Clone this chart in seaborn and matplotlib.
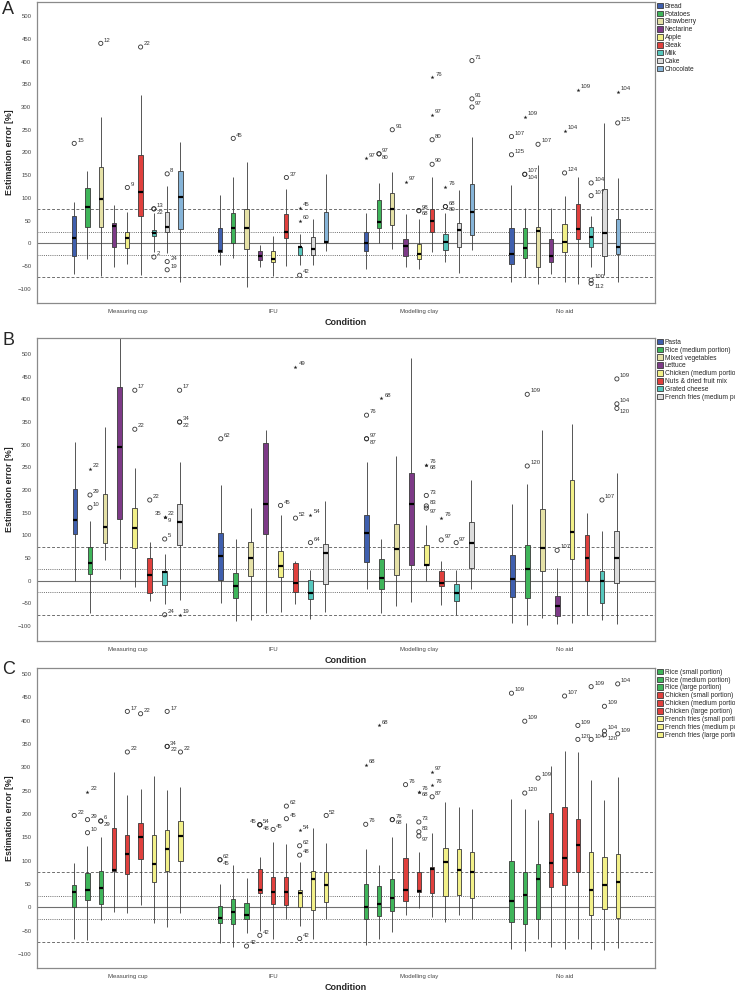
## ESTIMATION ERROR BY CONDITION -- THREE PANELS OF GROUPED BOXPLOTS ##

import matplotlib.pyplot as plt
import pandas as pd
import seaborn as sns

conditions = ["Measuring cup", "IFU", "Modelling clay", "No aid"]

# ---------------- panel A ----------------
foods_a = ["Bread", "Potatoes", "Strawberry", "Nectarine", "Apple", "Steak", "Milk", "Cake", "Chocolate"]
colors_a = ["#3f5fae", "#3fb55a", "#e5e1a6", "#7d3a87", "#f2f088", "#e0403d", "#55c7bd", "#dcdcdc", "#86b4d8"]

# each row: lower whisker, q1, median, q3, upper whisker
a_cup = [[-68, -28, 12, 60, 92], [-35, 37, 80, 121, 160], [-72, 35, 97, 168, 278],
         [-53, -7, 38, 44, 85], [-45, -11, 12, 24, 68], [-70, 60, 113, 194, 326],
         [-18, 17, 22, 30, 66], [-22, 26, 35, 70, 126], [-86, 31, 102, 160, 224]]
a_ifu = [[-48, -18, -16, 34, 106], [-33, 0, 33, 66, 145], [-97, -12, 33, 75, 179],
         [-51, -37, -28, -16, -4], [-71, -40, -35, -16, 16], [-50, 12, 26, 64, 119],
         [-48, -26, -9, -7, 20], [-48, -26, -13, 15, 53], [-16, 3, 4, 68, 152]]
a_clay = [[-57, -16, 0, 24, 66], [0, 33, 47, 95, 133], [-12, 40, 75, 110, 158],
          [-52, -28, -5, 10, 65], [-57, -35, -23, -1, 53], [-18, 26, 50, 76, 146],
          [-40, -14, 2, 20, 67], [-65, -8, 30, 45, 117], [-15, 18, 69, 130, 234]]
a_none = [[-86, -46, -23, 34, 128], [-75, -33, -10, 34, 78], [-90, -53, 28, 37, 173],
          [-67, -42, -28, 9, 78], [-86, -18, 3, 43, 104], [-90, 9, 31, 86, 147],
          [-53, -9, 15, 37, 60], [-70, -27, 22, 119, 264], [-84, -23, -8, 53, 144]]

# outliers: (condition index, food index, value, case label, star?)
out_a = [(0, 0, 220, "15", 0), (0, 2, 440, "12", 0), (0, 4, 123, "9", 0), (0, 5, 432, "22", 0),
         (0, 6, 76, "13", 0), (0, 6, 76, "22", 0), (0, 6, -30, "2", 0), (0, 7, 153, "8", 0),
         (0, 7, -40, "24", 0), (0, 7, -58, "19", 0),
         (1, 1, 231, "45", 0), (1, 5, 145, "37", 0), (1, 6, 78, "45", 1), (1, 6, 50, "60", 1),
         (1, 6, -70, "42", 0),
         (2, 0, 187, "97", 1), (2, 1, 197, "97", 0), (2, 1, 197, "80", 0), (2, 2, 250, "91", 0),
         (2, 3, 135, "97", 1), (2, 4, 72, "98", 0), (2, 4, 72, "68", 0), (2, 5, 365, "76", 1),
         (2, 5, 282, "97", 1), (2, 5, 228, "80", 0), (2, 5, 174, "90", 0), (2, 6, 125, "76", 1),
         (2, 6, 81, "68", 0), (2, 6, 81, "80", 0), (2, 8, 402, "71", 0), (2, 8, 318, "91", 0),
         (2, 8, 300, "97", 0),
         (3, 0, 235, "107", 0), (3, 0, 195, "125", 0), (3, 1, 278, "109", 1), (3, 1, 152, "107", 0),
         (3, 1, 152, "104", 0), (3, 2, 218, "107", 0), (3, 4, 247, "104", 1), (3, 4, 155, "124", 0),
         (3, 5, 338, "109", 1), (3, 6, 133, "104", 0), (3, 6, 105, "107", 0), (3, 6, -81, "100", 0),
         (3, 6, -88, "112", 0), (3, 8, 333, "104", 1), (3, 8, 265, "125", 0)]

# ---------------- panel B ----------------
foods_b = ["Pasta", "Rice (medium portion)", "Mixed vegetables", "Lettuce", "Chicken (medium portion)",
           "Nuts & dried fruit mix", "Grated cheese", "French fries (medium portion)"]
colors_b = ["#3f5fae", "#3fb55a", "#e5e1a6", "#7d3a87", "#f2f088", "#e0403d", "#55c7bd", "#dcdcdc"]

b_cup = [[0, 102, 133, 203, 305], [-71, 15, 38, 74, 131], [46, 83, 119, 192, 339],
         [4, 137, 295, 427, 545], [-13, 73, 117, 160, 248], [-44, -26, 12, 49, 86],
         [-51, -9, 19, 21, 58], [-43, 79, 130, 170, 261]]
b_ifu = [[-49, 2, 55, 106, 211], [-88, -38, -11, 17, 93], [-86, 11, 50, 85, 161],
         [-72, 102, 169, 304, 332], [-69, 8, 33, 66, 144], [-52, -25, -4, 38, 43],
         [-84, -40, -27, 2, 23], [-68, -8, 60, 80, 176]]
b_clay = [[-18, 41, 106, 145, 262], [-71, -18, 7, 47, 93], [-55, 12, 69, 124, 276],
          [-46, 35, 170, 237, 492], [-1, 34, 35, 78, 122], [-53, -12, -4, 21, 43],
          [-75, -44, -27, -7, 23], [-18, 27, 84, 130, 222]]
b_none = [[-93, -37, 4, 57, 170], [-97, -38, 25, 78, 214], [-83, 21, 73, 159, 332],
          [-96, -77, -55, -34, 27], [-94, 48, 108, 222, 345], [-75, 0, 50, 100, 150],
          [-86, -49, 0, 21, 109], [-95, -4, 49, 110, 237]]

out_b = [(0, 1, 246, "22", 1), (0, 1, 189, "29", 0), (0, 1, 161, "10", 0), (0, 4, 420, "17", 0),
         (0, 4, 334, "22", 0), (0, 5, 178, "22", 0), (0, 6, 140, "22", 1), (0, 6, 140, "9", 1),
         (0, 6, 140, "35", 1), (0, 6, 92, "5", 0), (0, 6, -75, "24", 0), (0, 7, 420, "17", 0),
         (0, 7, 350, "34", 0), (0, 7, 350, "22", 0), (0, 7, -75, "19", 1),
         (1, 0, 313, "62", 0), (1, 4, 166, "45", 0), (1, 5, 472, "49", 1), (1, 5, 138, "52", 0),
         (1, 6, 145, "54", 1), (1, 6, 84, "64", 0),
         (2, 0, 365, "76", 0), (2, 0, 313, "97", 0), (2, 0, 313, "87", 0), (2, 1, 402, "68", 1),
         (2, 4, 256, "76", 1), (2, 4, 256, "68", 1), (2, 4, 188, "73", 0), (2, 4, 165, "83", 0),
         (2, 4, 160, "97", 0), (2, 5, 138, "76", 1), (2, 5, 90, "97", 0), (2, 6, 84, "97", 0),
         (3, 1, 411, "109", 0), (3, 1, 253, "120", 0), (3, 3, 67, "107", 0), (3, 6, 178, "107", 0),
         (3, 7, 445, "109", 0), (3, 7, 390, "104", 0), (3, 7, 380, "120", 0)]

# ---------------- panel C ----------------
foods_c = ["Rice (small portion)", "Rice (medium portion)", "Rice (large portion)",
           "Chicken (small portion)", "Chicken (medium portion)", "Chicken (large portion)",
           "French fries (small portion)", "French fries (medium portion)", "French fries (large portion)"]
colors_c = ["#3fb55a"] * 3 + ["#e0403d"] * 3 + ["#f2f088"] * 3

c_cup = [[-68, 0, 33, 48, 96], [-70, 16, 38, 73, 131], [-27, 7, 42, 77, 150],
         [-10, 78, 80, 171, 290], [-13, 71, 114, 155, 240], [4, 103, 151, 181, 254],
         [-33, 54, 93, 155, 281], [-43, 78, 126, 165, 252], [-13, 100, 153, 185, 257]]
c_ifu = [[-77, -33, -22, 3, 51], [-84, -36, -9, 18, 91], [-54, -26, -16, 10, 63],
         [-51, 30, 38, 83, 107], [-68, 8, 33, 66, 140], [-26, 4, 32, 66, 135],
         [-40, 0, 31, 37, 98], [-68, -6, 60, 77, 171], [-24, 11, 48, 76, 138]]
c_clay = [[-80, -26, 1, 51, 126], [-68, -18, 7, 46, 90], [-52, -8, 19, 61, 151],
          [-16, 14, 38, 105, 181], [-2, 33, 34, 76, 119], [-20, 31, 83, 87, 160],
          [-31, 25, 97, 128, 226], [-16, 26, 81, 126, 215], [-24, 19, 76, 119, 211]]
c_none = [[-89, -31, 14, 99, 232], [-93, -36, 26, 76, 210], [-68, -26, 61, 92, 187],
          [-86, 44, 94, 203, 303], [-90, 47, 105, 215, 335], [-68, 76, 133, 189, 332],
          [-90, -16, 38, 118, 272], [-91, -4, 48, 108, 231], [-88, -22, 54, 115, 279]]

out_c = [(0, 0, 197, "22", 0), (0, 1, 247, "22", 1), (0, 1, 188, "29", 0), (0, 1, 160, "10", 0),
         (0, 2, 185, "6", 0), (0, 2, 185, "29", 0), (0, 4, 420, "17", 0), (0, 4, 333, "22", 0),
         (0, 5, 415, "22", 0), (0, 7, 420, "17", 0), (0, 7, 345, "34", 0), (0, 7, 345, "22", 0),
         (0, 8, 333, "22", 0),
         (1, 0, 102, "62", 0), (1, 0, 102, "45", 0), (1, 2, -83, "42", 0), (1, 3, 177, "54", 0),
         (1, 3, 177, "48", 0), (1, 3, 177, "45", 0), (1, 3, -60, "42", 0), (1, 4, 167, "45", 0),
         (1, 5, 217, "62", 0), (1, 5, 190, "45", 0), (1, 6, 165, "54", 1), (1, 6, 132, "62", 0),
         (1, 6, 112, "48", 0), (1, 6, -67, "42", 0), (1, 8, 197, "52", 0),
         (2, 0, 305, "68", 1), (2, 0, 178, "76", 0), (2, 1, 390, "68", 1), (2, 2, 188, "76", 0),
         (2, 2, 188, "68", 0), (2, 3, 263, "76", 0), (2, 4, 248, "76", 1), (2, 4, 248, "68", 1),
         (2, 4, 183, "73", 0), (2, 4, 162, "83", 0), (2, 4, 153, "97", 0), (2, 5, 290, "97", 1),
         (2, 5, 263, "76", 1), (2, 5, 237, "87", 0),
         (3, 0, 459, "109", 0), (3, 1, 399, "109", 0), (3, 1, 245, "120", 0), (3, 2, 277, "109", 0),
         (3, 4, 453, "107", 0), (3, 5, 390, "109", 0), (3, 5, 360, "120", 0), (3, 6, 473, "109", 0),
         (3, 6, 360, "104", 0), (3, 7, 431, "109", 0), (3, 7, 378, "104", 0), (3, 7, 370, "120", 0),
         (3, 8, 479, "104", 0), (3, 8, 372, "109", 0)]

BOX_W = 0.82  # total width of one cluster


def long_table(stats, foods):
    # five numbers per box -> seaborn gets q1/median/q3 exactly back, whiskers = min/max
    rows = []
    for cond, table in zip(conditions, stats):
        for food, five in zip(foods, table):
            for v in five:
                rows.append((cond, food, v))
    return pd.DataFrame(rows, columns=["Condition", "Food", "Error"])


def draw_panel(ax, stats, foods, colors, outliers, ylim, letter, fig_y):
    df = long_table(stats, foods)
    for y, ls in [(75, (0, (3, 2))), (-75, (0, (3, 2))), (25, (0, (1, 1.2))), (-25, (0, (1, 1.2)))]:
        ax.axhline(y, color="#6f6f6f", lw=0.7, ls=ls, zorder=1)
    ax.axhline(0, color="#6f6f6f", lw=0.8, zorder=1)

    sns.boxplot(data=df, x="Condition", y="Error", hue="Food", order=conditions, hue_order=foods,
                palette=colors, saturation=1, whis=(0, 100), width=BOX_W, gap=0.68,
                showcaps=False, fliersize=0, linewidth=0.6, linecolor="#3a3a3a",
                medianprops=dict(color="black", linewidth=1.6), ax=ax)

    n = len(foods)
    each = BOX_W / n
    placed = []  # labels already put at roughly the same spot
    for cond, fi, val, lab, star in outliers:
        x = cond + (fi - (n - 1) / 2) * each
        if star:
            ax.scatter(x, val, marker="*", s=9, color="#222222", linewidths=0, zorder=4)
        else:
            ax.scatter(x, val, marker="o", s=9, facecolors="none", edgecolors="#333333",
                       linewidths=0.6, zorder=4)
        k = sum(1 for (c, f, v) in placed if c == cond and f == fi and abs(v - val) < 12)
        placed.append((cond, fi, val))
        if k == 0:
            xy, ha, va = (2.2, 0.6), "left", "bottom"
        elif k == 1:
            xy, ha, va = (2.2, -0.6), "left", "top"
        else:
            xy, ha, va = (-2.2, 0.6), "right", "bottom"
        ax.annotate(lab, (x, val), xytext=xy, textcoords="offset points", ha=ha, va=va,
                    fontsize=4.3, color="#333333", zorder=5)

    ax.set_xlim(-0.62, 3.62)
    ax.set_ylim(*ylim)
    ax.set_yticks(range(-100, 501, 50))
    ax.tick_params(axis="both", labelsize=4.3, length=2, width=0.5, colors="#444444", pad=2)
    ax.set_ylabel("Estimation error [%]", fontsize=6.4, fontweight="bold", labelpad=3)
    ax.set_xlabel("Condition", fontsize=6.5, fontweight="bold", labelpad=3.5)
    for sp in ax.spines.values():
        sp.set_visible(True)
        sp.set_color("#8a8a8a")
        sp.set_linewidth(0.9)

    sns.move_legend(ax, "upper left", bbox_to_anchor=(1.002, 1.0), frameon=False, title=None,
                    fontsize=4.8, handlelength=0.9, handleheight=0.9, handletextpad=0.3,
                    labelspacing=0.12, borderaxespad=0, borderpad=0.1)
    fig.text(0.003, fig_y, letter, fontsize=13, va="top", ha="left")


sns.set_theme(style="white")
plt.rcParams["font.family"] = ["Liberation Sans", "DejaVu Sans"]

fig = plt.figure(figsize=(7.35, 9.92), dpi=100)
ax_a = fig.add_axes([0.0503, 0.6946, 0.8408, 0.3034])
ax_b = fig.add_axes([0.0503, 0.3538, 0.8408, 0.3054])
ax_c = fig.add_axes([0.0503, 0.0242, 0.8408, 0.3024])

draw_panel(ax_a, [a_cup, a_ifu, a_clay, a_none], foods_a, colors_a, out_a, (-131, 531), "A", 0.999)
draw_panel(ax_b, [b_cup, b_ifu, b_clay, b_none], foods_b, colors_b, out_b, (-133, 535), "B", 0.665)
draw_panel(ax_c, [c_cup, c_ifu, c_clay, c_none], foods_c, colors_c, out_c, (-130, 513), "C", 0.334)

fig.savefig("out.png", dpi=100)
